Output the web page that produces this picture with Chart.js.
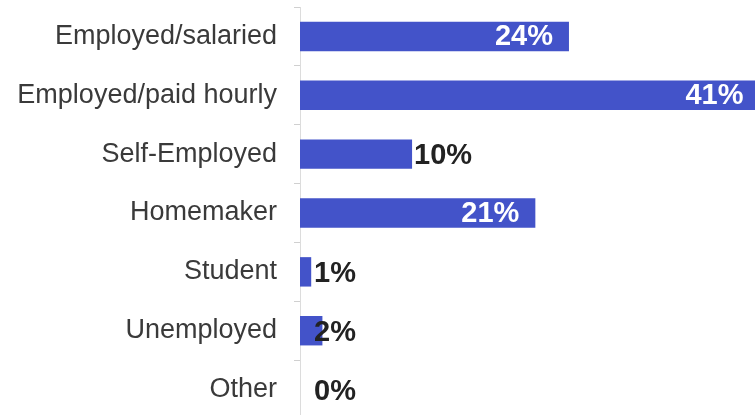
<!DOCTYPE html>
<html>
<head>
    <meta charset="utf-8" />
    <title>Employment Status</title>
<script src="https://cdn.jsdelivr.net/npm/chart.js@4.4.0/dist/chart.umd.min.js"></script>
<style>
    html, body{
        margin: 0;
        padding: 0;
        background: #fff;
        overflow: hidden;
    }
    .chartContainer{
        position: relative;
        width: 755px;
        height: 419px;
    }
</style>
</head>
<body>
    <div class="chartContainer">
        <canvas id="myChart"></canvas>
    </div>

<script>
    var categories = ["Employed/salaried", "Employed/paid hourly", "Self-Employed", "Homemaker", "Student", "Unemployed", "Other"];
    var percentages = [24, 41, 10, 21, 1, 2, 0];

    var barColor = "#4353c9";
    var fontFamily = "'Liberation Sans', Arial, sans-serif";

    // draws the "NN%" labels: inside the bar (white) when it is long enough,
    // after the bar for mid values, and at a fixed spot for tiny ones
    var valueLabels = {
        id: 'valueLabels',
        afterDatasetsDraw: function (chart) {
            var ctx = chart.ctx;
            var xScale = chart.scales.x;
            var meta = chart.getDatasetMeta(0);
            var base = xScale.getPixelForValue(0);
            ctx.save();
            ctx.font = "bold 29px " + fontFamily;
            ctx.textBaseline = "middle";
            meta.data.forEach(function (bar, i) {
                var value = percentages[i];
                var text = value + "%";
                var end = xScale.getPixelForValue(value);
                if (value >= 20) {
                    ctx.fillStyle = "#ffffff";
                    ctx.textAlign = "right";
                    ctx.fillText(text, end - 16, bar.y + 1);
                } else {
                    ctx.fillStyle = "#222222";
                    ctx.textAlign = "left";
                    var x = value >= 5 ? end + 2 : base + 14;
                    ctx.fillText(text, x, bar.y + 2);
                }
            });
            ctx.restore();
        }
    };

    var ctx = document.getElementById('myChart').getContext('2d');
    var chart = new Chart(ctx, {
        type: 'bar',
        data: {
            labels: categories,
            datasets: [{
                data: percentages,
                backgroundColor: barColor,
                categoryPercentage: 1,
                barPercentage: 0.5
            }]
        },
        options: {
            indexAxis: 'y',
            responsive: true,
            maintainAspectRatio: false,
            animation: false,
            layout: {
                padding: { top: 7, right: 0, bottom: 0, left: 0 }
            },
            plugins: {
                legend: { display: false },
                tooltip: { enabled: false }
            },
            scales: {
                x: {
                    display: false,
                    min: 0,
                    max: 40.6
                },
                y: {
                    afterFit: function (axis) {
                        // fixed gutter for the labels, no extra room above/below
                        axis.width = 300;
                        axis.paddingTop = 0;
                        axis.paddingBottom = 0;
                    },
                    border: { display: true, color: "#dcdcdc", width: 1 },
                    grid: {
                        drawOnChartArea: false,
                        drawTicks: true,
                        tickLength: 6,
                        color: "#d0d0d0"
                    },
                    ticks: {
                        padding: 17,
                        color: "#3a3a3a",
                        font: { family: fontFamily, size: 27 }
                    }
                }
            }
        },
        plugins: [valueLabels]
    });
</script>
</body>
</html>
